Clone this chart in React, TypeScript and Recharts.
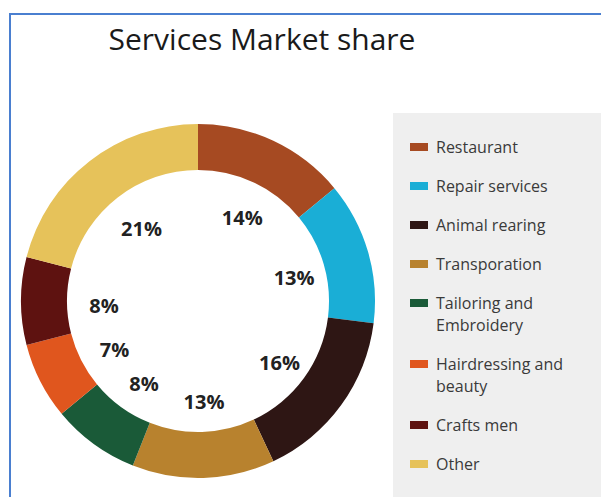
import { PieChart, Pie, Cell, Legend } from "recharts";

const categories = [
  "Restaurant",
  "Repair services",
  "Animal rearing",
  "Transporation",
  "Tailoring and Embroidery",
  "Hairdressing and beauty",
  "Crafts men",
  "Other",
];
const shares = [14, 13, 16, 13, 8, 7, 8, 21];
const colors = [
  "#A64A22",
  "#1AAED6",
  "#2E1614",
  "#B8822E",
  "#1A5A38",
  "#E0561E",
  "#5E1210",
  "#E6C25A",
];

const data = categories.map((name, i) => ({ name, value: shares[i] }));

const RAD = Math.PI / 180;

const renderLabel = (props: any) => {
  const { cx, cy, midAngle, innerRadius, value } = props;
  const r = innerRadius - 34;
  const x = cx + 3 + r * Math.cos(-midAngle * RAD);
  const y = cy + 4 + r * Math.sin(-midAngle * RAD);
  return (
    <text
      x={x}
      y={y}
      fill="#222"
      textAnchor="middle"
      dominantBaseline="central"
      style={{ fontFamily: "Open Sans", fontWeight: 700, fontSize: 20 }}
    >
      {value}%
    </text>
  );
};

const renderLegend = (props: any) => {
  const payload = [...(props.payload || [])].sort(
    (a: any, b: any) => categories.indexOf(a.value) - categories.indexOf(b.value)
  );
  return (
    <div style={{ fontFamily: "Open Sans", fontSize: 16, color: "#3a3a3a" }}>
      {payload.map((entry: any) => (
        <div
          key={entry.value}
          style={{ display: "flex", alignItems: "flex-start", marginBottom: 17, lineHeight: "22px" }}
        >
          <div
            style={{
              width: 18,
              height: 8,
              marginTop: 7,
              marginRight: 8,
              background: entry.color,
              flexShrink: 0,
            }}
          />
          <div style={{ width: 145 }}>{entry.value}</div>
        </div>
      ))}
    </div>
  );
};

export default function App() {
  return (
    <div
      style={{
        position: "fixed",
        left: 0,
        top: 0,
        width: 601,
        height: 497,
        background: "#fff",
        overflow: "hidden",
      }}
    >
      <div
        style={{
          position: "absolute",
          left: 9,
          top: 13,
          width: 620,
          height: 520,
          borderLeft: "2px solid #4A7FD0",
          borderTop: "2px solid #4A7FD0",
        }}
      />
      <div
        style={{
          position: "absolute",
          left: 393,
          top: 113,
          width: 208,
          height: 384,
          background: "#EFEFEF",
        }}
      />
      <div
        style={{
          position: "absolute",
          left: 62,
          top: 18,
          width: 400,
          textAlign: "center",
          fontFamily: "Open Sans",
          fontSize: 30,
          color: "#1a1a1a",
        }}
      >
        Services Market share
      </div>
      <div style={{ position: "absolute", left: 0, top: 0 }}>
        <PieChart width={601} height={497}>
          <Pie
            data={data}
            dataKey="value"
            nameKey="name"
            cx={193}
            cy={296}
            innerRadius={131}
            outerRadius={177}
            startAngle={90}
            endAngle={-270}
            stroke="none"
            label={renderLabel}
            labelLine={false}
            isAnimationActive={false}
          >
            {data.map((d, i) => (
              <Cell key={d.name} fill={colors[i]} />
            ))}
          </Pie>
          <Legend
            layout="vertical"
            verticalAlign="top"
            align="right"
            content={renderLegend}
            wrapperStyle={{ left: 410, top: 136, width: 180 }}
          />
        </PieChart>
      </div>
    </div>
  );
}
